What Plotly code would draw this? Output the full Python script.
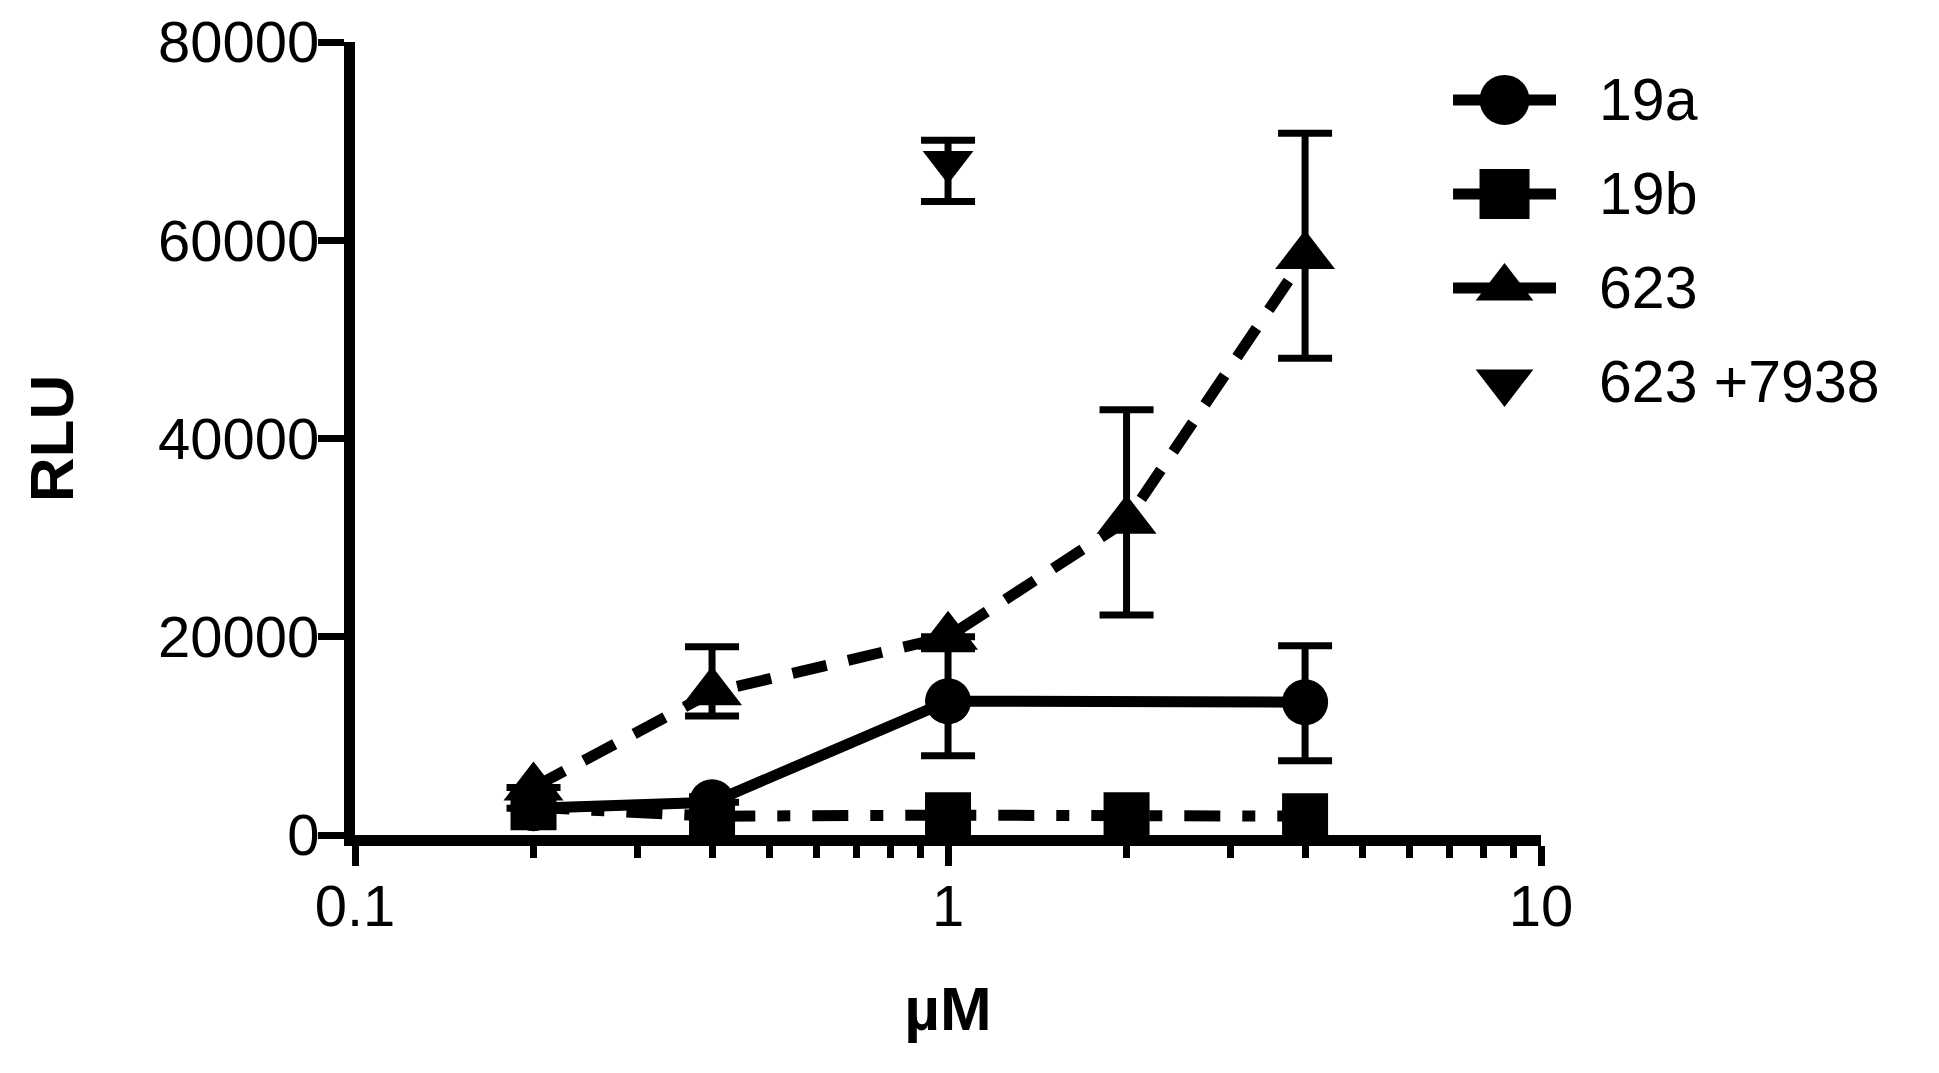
import plotly.graph_objects as go

# Datos (RLU vs concentracion en uM)
# None = barra de error no visible (mas pequena que el simbolo)
names = ["19a", "19b", "623", "623 +7938"]

x_19a = [0.2, 0.4, 1, 4]
y_19a = [2700, 3300, 13500, 13400]
err_up_19a = [None, None, 5300, 5700]
err_dn_19a = [None, None, 5500, 5900]

x_19b = [0.2, 0.4, 1, 2, 4]
y_19b = [2800, 1900, 2000, 2000, 1900]

x_623 = [0.2, 0.4, 1, 2, 4]
y_623 = [4800, 14400, 20000, 31700, 58400]
err_up_623 = [None, 4600, None, 11200, 12400]
err_dn_623 = [None, 2400, None, 9500, 10300]

x_7938 = [1]
y_7938 = [67900]
err_up_7938 = [2200]
err_dn_7938 = [4000]

x_ticks = [0.1, 1, 10]
x_ticktext = ["0.1", "1", "10"]
x_minor = [0.2, 0.3, 0.4, 0.5, 0.6, 0.7, 0.8, 0.9, 2, 3, 4, 5, 6, 7, 8, 9]
y_ticks = [0, 20000, 40000, 60000, 80000]

FONT = "Liberation Sans, Arial, sans-serif"
BLACK = "#000000"
LW = 11


def err(up, dn):
    return dict(type="data", symmetric=False, array=up, arrayminus=dn,
                color=BLACK, thickness=7, width=27)


fig = go.Figure()

fig.add_trace(go.Scatter(x=x_19a, y=y_19a, mode="lines+markers", name=names[0],
                         line=dict(color=BLACK, width=LW),
                         marker=dict(symbol="circle", size=46, color=BLACK),
                         error_y=err(err_up_19a, err_dn_19a)))
fig.add_trace(go.Scatter(x=x_19b, y=y_19b, mode="lines+markers", name=names[1],
                         line=dict(color=BLACK, width=LW, dash="36px,22px,13px,22px"),
                         marker=dict(symbol="square", size=46, color=BLACK)))
fig.add_trace(go.Scatter(x=x_623, y=y_623, mode="lines+markers", name=names[2],
                         line=dict(color=BLACK, width=LW, dash="35px,22px"),
                         marker=dict(symbol="triangle-up", size=52, color=BLACK),
                         error_y=err(err_up_623, err_dn_623)))
fig.add_trace(go.Scatter(x=x_7938, y=y_7938, mode="markers", name=names[3],
                         marker=dict(symbol="triangle-down", size=44, color=BLACK),
                         error_y=err(err_up_7938, err_dn_7938)))

# Leyenda dibujada a mano en un eje auxiliar (filas 0..3)
leg_symbols = ["circle", "square", "triangle-up", "triangle-down"]
leg_lines = [True, True, True, False]
for i in range(len(names)):
    if leg_lines[i]:
        fig.add_trace(go.Scatter(x=[0, 1], y=[i, i], mode="lines", xaxis="x2", yaxis="y2",
                                 line=dict(color=BLACK, width=LW), showlegend=False,
                                 hoverinfo="skip", cliponaxis=False))
    fig.add_trace(go.Scatter(x=[0.5], y=[i], mode="markers", xaxis="x2", yaxis="y2",
                             marker=dict(symbol=leg_symbols[i], size=50, color=BLACK),
                             showlegend=False, hoverinfo="skip", cliponaxis=False))
    fig.add_annotation(x=0.790, y=i, xref="paper", yref="y2", text=names[i], showarrow=False,
                       xanchor="left", yanchor="middle",
                       font=dict(family=FONT, size=59, color=BLACK))

fig.update_layout(
    width=1939, height=1073,
    margin=dict(l=347, r=20, t=34, b=246),
    paper_bgcolor="white", plot_bgcolor="white",
    showlegend=False,
    font=dict(family=FONT, color=BLACK),
    xaxis=dict(type="log", range=[-1, 1], domain=[0, 0.7545], anchor="y", automargin=False,
               showline=True, linewidth=LW, linecolor=BLACK, showgrid=False, zeroline=False,
               ticks="outside", ticklen=20, tickwidth=7, tickcolor=BLACK,
               tickmode="array", tickvals=x_ticks, ticktext=x_ticktext,
               ticklabelstandoff=-10,
               tickfont=dict(family=FONT, size=58, color=BLACK),
               minor=dict(tickmode="array", tickvals=x_minor, ticks="outside",
                          ticklen=12, tickwidth=7, tickcolor=BLACK, showgrid=False),
               title=dict(text="<b>µM</b>", standoff=55,
                          font=dict(family=FONT, size=62, color=BLACK))),
    yaxis=dict(range=[0, 80000], anchor="x", automargin=False,
               showline=True, linewidth=LW, linecolor=BLACK, showgrid=False, zeroline=False,
               ticks="outside", ticklen=26, tickwidth=7, tickcolor=BLACK,
               tickmode="array", tickvals=y_ticks, tickformat="d",
               ticklabelstandoff=-13,
               tickfont=dict(family=FONT, size=58, color=BLACK),
               title=dict(text="<b>RLU</b>", standoff=69,
                          font=dict(family=FONT, size=62, color=BLACK))),
    xaxis2=dict(domain=[0.6985, 0.764], range=[0, 1], anchor="y2", visible=False),
    yaxis2=dict(domain=[0.512, 0.9862], range=[3.5, -0.5], anchor="x2", visible=False),
)

fig.write_html("out.html")
